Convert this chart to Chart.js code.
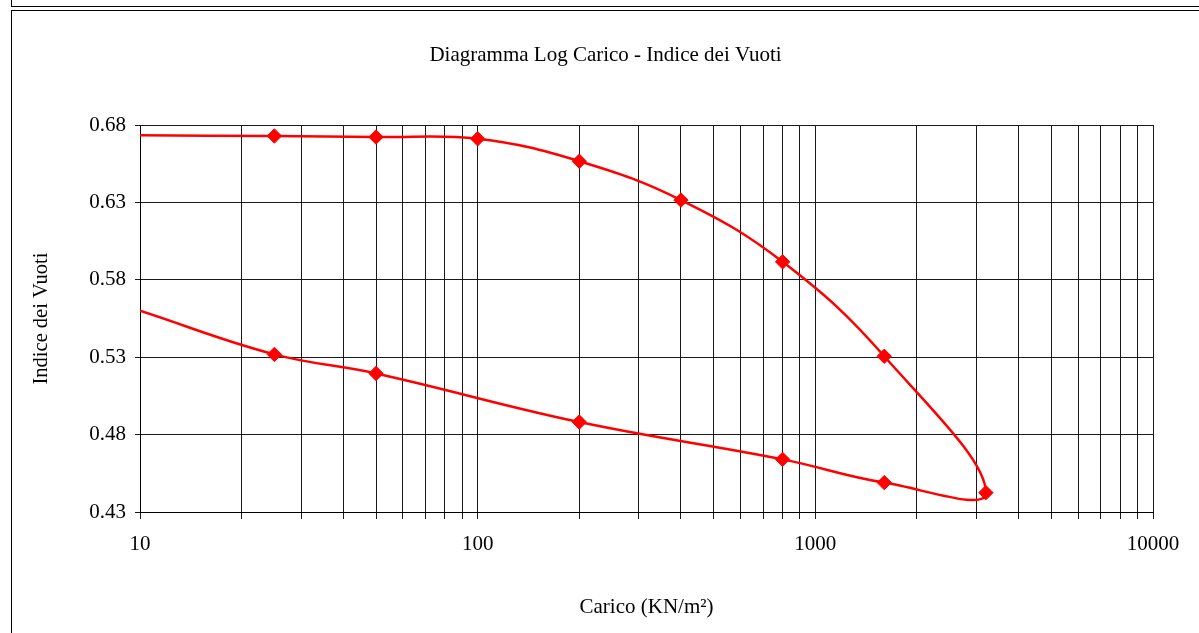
<!DOCTYPE html>
<html><head><meta charset="utf-8">
<script src="https://cdn.jsdelivr.net/npm/chart.js@4/dist/chart.umd.min.js"></script>
<style>
html,body{margin:0;padding:0;background:#fff;overflow:hidden;}
#wrap{position:relative;width:1199px;height:633px;overflow:hidden;}
.frame{position:absolute;border:1px solid #000;box-sizing:border-box;}
canvas{position:absolute;left:0;top:0;}
</style></head><body>
<div id="wrap">
<div class="frame" style="left:11px;top:-20px;width:1300px;height:27px;"></div>
<div class="frame" style="left:11px;top:10px;width:1300px;height:700px;"></div>
<canvas id="c" width="1199" height="633"></canvas>
</div>
<script>
// Loading branch (carico)
const loadX = [10, 25, 50, 100, 200, 400, 800, 1600, 3200];
const loadY = [0.6733, 0.6729, 0.6722, 0.6711, 0.6566, 0.6315, 0.5916, 0.5306, 0.4425];
// Unloading branch (scarico)
const unloadX = [1600, 800, 200, 50, 25, 10];
const unloadY = [0.4490, 0.4640, 0.4881, 0.5195, 0.5318, 0.5600];
// Axis ticks
const yTicks = [0.43, 0.48, 0.53, 0.58, 0.63, 0.68];
const xLabelTicks = [10, 100, 1000, 10000];
const xMin = 10, xMax = 10000;

const xGridTicks = [];
for (let d = 10; d < xMax; d *= 10) {
  for (let m = 1; m <= 9; m++) xGridTicks.push(d * m);
}
xGridTicks.push(xMax);

const xs = loadX.concat(unloadX);
const ys = loadY.concat(unloadY);
const pts = xs.map((x, i) => ({x: x, y: ys[i]}));
const radii = xs.map(x => (x === xMin ? 0 : 7.2));

const serif = '"Liberation Serif", "Times New Roman", serif';
const f = (s) => ({family: serif, size: s, weight: 'normal'});

new Chart(document.getElementById('c').getContext('2d'), {
  type: 'scatter',
  data: {
    datasets: [{
      data: pts,
      showLine: true,
      borderColor: '#ff0000',
      backgroundColor: '#ff0000',
      borderWidth: 2.5,
      tension: 0.4,
      pointStyle: 'rectRot',
      pointRadius: radii,
      pointHoverRadius: radii,
      pointBorderWidth: 1,
      pointBorderColor: '#ff0000',
      pointBackgroundColor: '#ff0000'
    }]
  },
  options: {
    responsive: false,
    animation: false,
    devicePixelRatio: 1,
    events: [],
    layout: {padding: {left: 12, right: 0, top: 0, bottom: 0}},
    plugins: {
      legend: {display: false},
      tooltip: {enabled: false},
      title: {
        display: true,
        text: 'Diagramma Log Carico - Indice dei Vuoti',
        color: '#000',
        font: f(21),
        padding: {top: 43, bottom: 56.8}
      }
    },
    scales: {
      x: {
        type: 'logarithmic',
        min: xMin,
        max: xMax,
        afterBuildTicks: (s) => { s.ticks = xGridTicks.map(v => ({value: v})); },
        ticks: {
          autoSkip: false,
          maxRotation: 0,
          minRotation: 0,
          color: '#000',
          font: f(21),
          padding: 13,
          callback: (v) => (xLabelTicks.includes(v) ? String(v) : '')
        },
        grid: {color: '#1a1a1a', lineWidth: 1, tickLength: 7, drawTicks: true},
        border: {color: '#000', width: 1},
        title: {
          display: true,
          text: 'Carico (KN/m²)',
          color: '#000',
          font: f(21),
          padding: {top: 0, bottom: 13.4}
        },
        afterFit: (s) => { s.height = 121; s.paddingRight = 46; s.paddingLeft = 0; }
      },
      y: {
        min: 0.43,
        max: 0.68,
        afterBuildTicks: (s) => { s.ticks = yTicks.map(v => ({value: v})); },
        ticks: {
          color: '#000',
          font: f(21),
          padding: 9,
          callback: (v) => Number(v).toFixed(2)
        },
        grid: {color: '#1a1a1a', lineWidth: 1, tickLength: 5, drawTicks: true},
        border: {color: '#000', width: 1},
        title: {
          display: true,
          text: 'Indice dei Vuoti',
          color: '#000',
          font: f(20.5),
          padding: {top: 17.4, bottom: 0}
        },
        afterFit: (s) => { s.width = 128; }
      }
    }
  }
});
</script>
</body></html>
